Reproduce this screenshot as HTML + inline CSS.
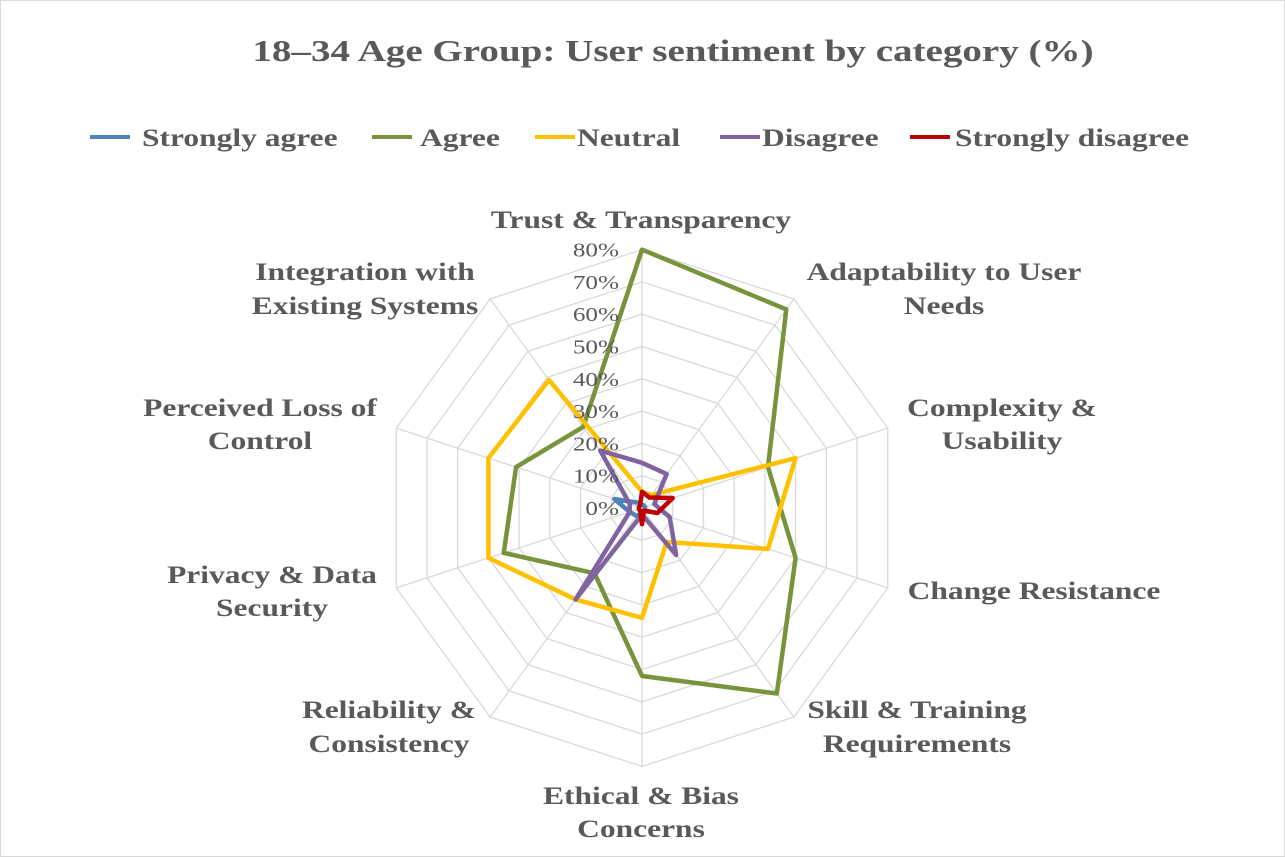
<!DOCTYPE html>
<html><head><meta charset="utf-8"><style>
html,body{margin:0;padding:0;background:#fff}
svg{display:block}
text{font-family:"Liberation Serif",serif;fill:#595959}
.c{font-weight:bold;font-size:25px}
.t{font-size:20px}
</style></head><body>
<svg id="s" width="1285" height="857" viewBox="0 0 1285 857" xmlns="http://www.w3.org/2000/svg">
<rect x="0.5" y="0.5" width="1284" height="856" fill="#fff" stroke="#d9d9d9"/>
<g id="grid"></g>
<g id="series"></g>
<text x="673" y="61" text-anchor="middle" font-weight="bold" font-size="31">18–34 Age Group: User sentiment by category (%)</text>
<g class="c">
<line x1="90" y1="137" x2="130" y2="137" stroke="#4f81bd" stroke-width="4"/><text x="142" y="146">Strongly agree</text>
<line x1="372" y1="137" x2="412" y2="137" stroke="#77933c" stroke-width="4"/><text x="420" y="146">Agree</text>
<line x1="535" y1="137" x2="575" y2="137" stroke="#ffc000" stroke-width="4"/><text x="577" y="146">Neutral</text>
<line x1="720" y1="137" x2="760" y2="137" stroke="#8064a2" stroke-width="4"/><text x="762" y="146">Disagree</text>
<line x1="910" y1="137" x2="950" y2="137" stroke="#c00000" stroke-width="4"/><text x="955" y="146">Strongly disagree</text>
</g>
<g class="c" text-anchor="middle">
<text x="641" y="228">Trust &amp; Transparency</text>
<text x="944" y="280">Adaptability to User</text><text x="944" y="314">Needs</text>
<text x="1002" y="416">Complexity &amp;</text><text x="1002" y="449">Usability</text>
<text x="1034" y="599">Change Resistance</text>
<text x="917" y="718">Skill &amp; Training</text><text x="917" y="752">Requirements</text>
<text x="641" y="804">Ethical &amp; Bias</text><text x="641" y="837">Concerns</text>
<text x="389" y="718">Reliability &amp;</text><text x="389" y="752">Consistency</text>
<text x="272" y="583">Privacy &amp; Data</text><text x="272" y="616">Security</text>
<text x="260" y="416">Perceived Loss of</text><text x="260" y="449">Control</text>
<text x="365" y="280">Integration with</text><text x="365" y="314">Existing Systems</text>
</g>
<g class="t" text-anchor="end" id="ticks"></g>
</svg>
<script>
var cx=642,cy=508,k=3.23,N=10;
function pt(i,v){var a=i*2*Math.PI/N;return [cx+Math.sin(a)*v*k,cy-Math.cos(a)*v*k];}
var g=document.getElementById('grid'),h='';
for(var r=10;r<=80;r+=10){var p=[];for(var i=0;i<N;i++)p.push(pt(i,r).join(','));h+='<polygon points="'+p.join(' ')+'" fill="none" stroke="#d9d9d9" stroke-width="1.3"/>';}
for(var i=0;i<N;i++){var q=pt(i,80);h+='<line x1="'+cx+'" y1="'+cy+'" x2="'+q[0]+'" y2="'+q[1]+'" stroke="#d9d9d9" stroke-width="1.3"/>';}
g.innerHTML=h;
var t='';for(var r=0;r<=80;r+=10){t+='<text x="619" y="'+(cy-r*k+7)+'">'+r+'%</text>';}
document.getElementById('ticks').innerHTML=t;
var S=[
["#4f81bd",[1,1,1,1,1,2,3,4,9,2]],
["#77933c",[80,76,41,50,71,52,25,45,41,31]],
["#ffc000",[5,5,50,41,13,34,35,50,50,49]],
["#8064a2",[14,13,4,9,18,2,35,4,4,22]],
["#c00000",[5,4,10,5,1,5,1,1,1,1]]];
var s='';S.forEach(function(d){var p=[];d[1].forEach(function(v,i){p.push(pt(i,v).join(','));});s+='<polygon points="'+p.join(' ')+'" fill="none" stroke="'+d[0]+'" stroke-width="4.5" stroke-linejoin="round"/>';});
document.getElementById('series').innerHTML=s;
var sc=1.26;
document.querySelectorAll('text').forEach(function(el){var x=parseFloat(el.getAttribute('x'));el.setAttribute('transform','translate('+(x*(1-sc))+',0) scale('+sc+',1)');});
</script>
</body></html>
